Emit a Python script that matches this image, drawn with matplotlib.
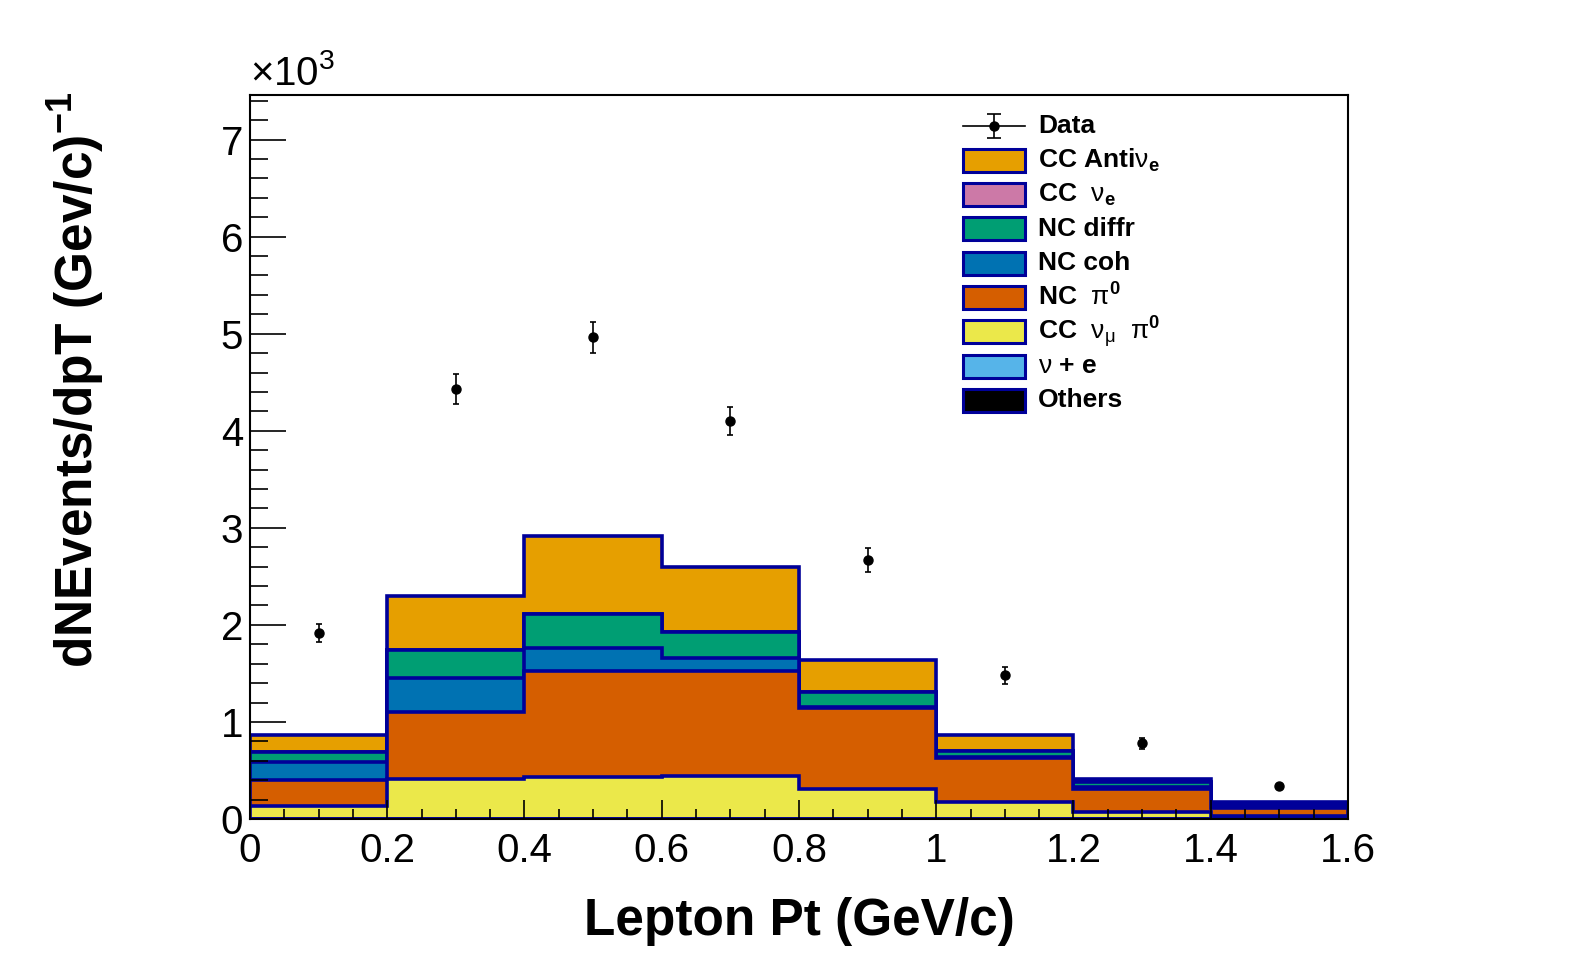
import matplotlib
matplotlib.use('Agg')
import matplotlib.pyplot as plt
import numpy as np
from matplotlib.patches import Rectangle
from matplotlib.lines import Line2D

plt.rcParams['font.family'] = ['Liberation Sans', 'DejaVu Sans']
plt.rcParams['mathtext.fontset'] = 'custom'
plt.rcParams['mathtext.rm'] = 'Liberation Sans'
plt.rcParams['mathtext.bf'] = 'Liberation Sans:bold'
plt.rcParams['mathtext.it'] = 'Liberation Sans:italic'
plt.rcParams['mathtext.default'] = 'rm'

# bins in lepton pt (GeV/c)
bin_edges = [0.0, 0.2, 0.4, 0.6, 0.8, 1.0, 1.2, 1.4, 1.6]

# data
data_x = [0.1, 0.3, 0.5, 0.7, 0.9, 1.1, 1.3, 1.5]
data_y = [1914, 4430, 4964, 4100, 2670, 1480, 778, 339]
data_err = [95, 150, 160, 145, 120, 90, 60, 20]

# MC components, bottom of stack first
others = [0, 0, 0, 0, 0, 0, 0, 0]
nu_e = [0, 0, 0, 0, 0, 0, 0, 0]
cc_numu_pi0 = [138, 408, 432, 442, 305, 175, 70, 30]
nc_pi0 = [262, 695, 1095, 1078, 835, 455, 240, 80]
nc_coh = [188, 349, 240, 135, 10, 10, 20, 20]
nc_diffr = [102, 291, 346, 275, 160, 60, 50, 20]
cc_nue = [0, 0, 0, 0, 0, 0, 0, 0]
cc_antinue = [173, 554, 807, 670, 331, 170, 28, 28]

stack = [others, nu_e, cc_numu_pi0, nc_pi0, nc_coh, nc_diffr, cc_nue, cc_antinue]
stack_colors = ['#000000', '#56B4E9', '#EBE84A', '#D55E00', '#0072B2',
                '#009E73', '#CC79A7', '#E69F00']

leg_labels = ['CC Anti' + r'$\nu_{\mathbf{e}}$', r'CC  $\nu_{\mathbf{e}}$', 'NC diffr', 'NC coh',
              r'NC  $\pi^{\mathbf{0}}$', r'CC  $\nu_{\mu}$  $\pi^{\mathbf{0}}$',
              r'$\nu$ + e', 'Others']
leg_colors = ['#E69F00', '#CC79A7', '#009E73', '#0072B2', '#D55E00', '#EBE84A',
              '#56B4E9', '#000000']

xtick_vals = [0, 0.2, 0.4, 0.6, 0.8, 1.0, 1.2, 1.4, 1.6]
xtick_labels = ['0', '0.2', '0.4', '0.6', '0.8', '1', '1.2', '1.4', '1.6']
ytick_vals = [0, 1000, 2000, 3000, 4000, 5000, 6000, 7000]
ytick_labels = ['0', '1', '2', '3', '4', '5', '6', '7']

line_col = '#000099'

fig = plt.figure(figsize=(15.96, 9.72), dpi=100)
ax = fig.add_axes([0.1566, 0.1574, 0.688, 0.7449])

cum = np.cumsum(np.array(stack, dtype=float), axis=0)
for i in range(len(stack) - 1, -1, -1):
    ax.stairs(cum[i], bin_edges, baseline=0, fill=True, color=stack_colors[i], lw=0)
    ax.stairs(cum[i], bin_edges, baseline=0, color=line_col, lw=2.6)

ax.errorbar(data_x, data_y, yerr=data_err, fmt='o', color='black', ms=6.5,
            elinewidth=1.2, capsize=2.5, capthick=1.2)

ax.set_xlim(0, 1.6)
ax.set_ylim(0, 7460)

ax.set_xticks(xtick_vals)
ax.set_xticklabels(xtick_labels)
ax.set_xticks(np.arange(0, 1.6001, 0.05), minor=True)
ax.set_yticks(ytick_vals)
ax.set_yticklabels(ytick_labels)
ax.set_yticks(np.arange(0, 7460, 200), minor=True)

ax.tick_params(axis='x', which='major', direction='in', length=14, width=1.2,
               labelsize=29, pad=9, top=False)
ax.tick_params(axis='x', which='minor', direction='in', length=7, width=1.2, top=False)
ax.tick_params(axis='y', which='major', direction='in', length=26, width=1.2,
               labelsize=29, pad=5, right=False)
ax.tick_params(axis='y', which='minor', direction='in', length=13, width=1.2, right=False)
for s in ax.spines.values():
    s.set_linewidth(1.5)

ax.text(0.0, 1.003, r'$\times$10$^{3}$', transform=ax.transAxes, fontsize=29,
        ha='left', va='bottom')

ax.set_xlabel('Lepton Pt (GeV/c)', fontsize=37, fontweight='bold', va='center')
ax.xaxis.set_label_coords(0.5, -0.141)
ax.set_ylabel(r'dNEvents/dpT (Gev/c)$^{\mathbf{-1}}$', fontsize=37, fontweight='bold',
              va='center')
ax.yaxis.set_label_coords(-0.158, 0.606)

# legend
lx0, lx1 = 0.649, 0.706
row0 = (819 - 126) / 724
drow = 34.3 / 724
bh = 0.0318
yc = row0
ax.add_line(Line2D([lx0, lx1], [yc, yc], transform=ax.transAxes, color='black', lw=1.2))
ax.errorbar([(lx0 + lx1) / 2], [yc], yerr=[0.016], fmt='o', color='black', ms=6.5,
            elinewidth=1.2, capsize=5, capthick=1.2, transform=ax.transAxes)
ax.text(0.7177, yc, 'Data', transform=ax.transAxes, fontsize=19, fontweight='bold',
        va='center', ha='left')
for i, (lab, col) in enumerate(zip(leg_labels, leg_colors)):
    yc = row0 - drow * (i + 1)
    ax.add_patch(Rectangle((lx0, yc - bh / 2), lx1 - lx0, bh, transform=ax.transAxes,
                           facecolor=col, edgecolor=line_col, lw=2.2))
    ax.text(0.7177, yc, lab, transform=ax.transAxes, fontsize=19, fontweight='bold',
            va='center', ha='left')

fig.savefig('out.png', dpi=100)
